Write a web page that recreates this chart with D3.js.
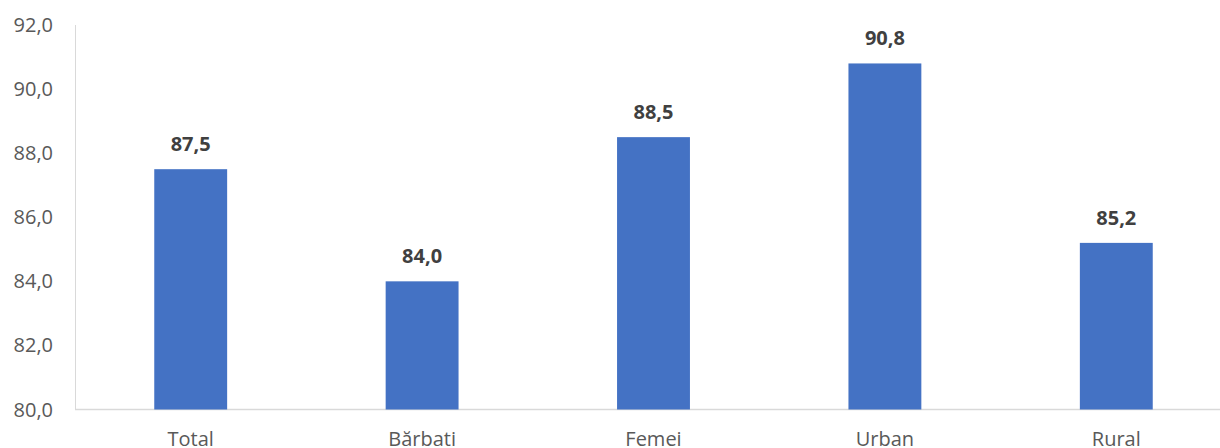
<!DOCTYPE html>
<html><head><meta charset="utf-8">
<script src="https://cdn.jsdelivr.net/npm/d3@7"></script>
<style>body{margin:0;background:#fff}svg{display:block}</style>
</head><body>
<svg id="c" width="1220" height="448"></svg>
<script>
const categories = ["Total", "Bărbati", "Femei", "Urban", "Rural"];
const values = [87.5, 84.0, 88.5, 90.8, 85.2];
const yTicks = [80, 82, 84, 86, 88, 90, 92];

const svg = d3.select("#c");
const fmt = v => d3.format(".1f")(v).replace(".", ",");
const x = d3.scaleBand().domain(categories).range([75, 1232]).paddingInner(0.685).paddingOuter(0.3425);
const y = d3.scaleLinear().domain([80, 92]).range([409.5, 25]);
const font = "'Open Sans', sans-serif";

// axis lines
svg.append("line").attr("x1", 75.5).attr("x2", 75.5).attr("y1", y(92)).attr("y2", y(80)).attr("stroke", "#d9d9d9").attr("stroke-width", 1);
svg.append("line").attr("x1", 75).attr("x2", 1220).attr("y1", y(80)).attr("y2", y(80)).attr("stroke", "#d9d9d9").attr("stroke-width", 1.5);

// y tick labels
svg.selectAll(".yt").data(yTicks).enter().append("text")
  .attr("x", 53).attr("y", d => y(d)).attr("dy", "0.35em")
  .attr("text-anchor", "end").attr("font-family", font).attr("font-size", 20).attr("fill", "#595959")
  .text(fmt);

// bars
svg.selectAll(".bar").data(values).enter().append("rect")
  .attr("x", (d, i) => x(categories[i])).attr("width", x.bandwidth())
  .attr("y", d => y(d)).attr("height", d => y(80) - y(d)).attr("fill", "#4472C4");

// value labels
svg.selectAll(".vl").data(values).enter().append("text")
  .attr("x", (d, i) => x(categories[i]) + x.bandwidth() / 2).attr("y", d => y(d) - 18)
  .attr("text-anchor", "middle").attr("font-family", font).attr("font-weight", "bold").attr("font-size", 20).attr("fill", "#404040")
  .text(fmt);

// category labels
svg.selectAll(".cl").data(categories).enter().append("text")
  .attr("x", d => x(d) + x.bandwidth() / 2).attr("y", 446)
  .attr("text-anchor", "middle").attr("font-family", font).attr("font-size", 20).attr("fill", "#595959")
  .text(d => d);
</script>
</body></html>
